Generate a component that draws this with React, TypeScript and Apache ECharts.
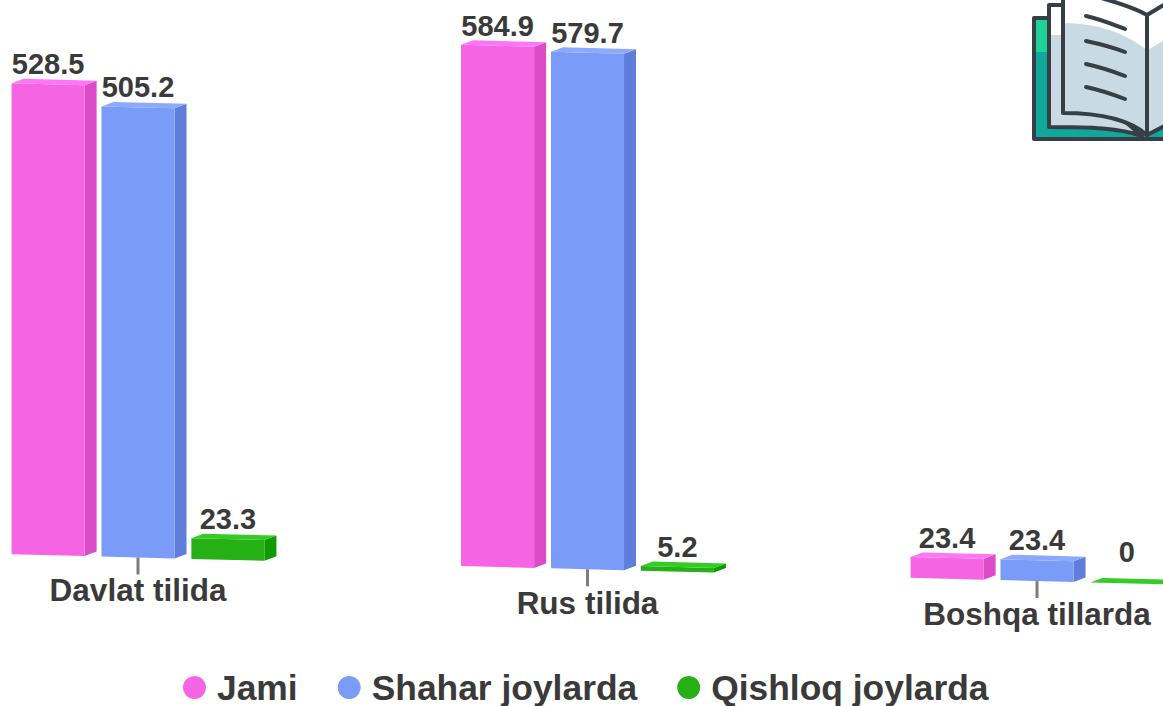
import React, { useEffect, useRef } from "react";
import * as echarts from "echarts";

const categories = ["Davlat tilida", "Rus tilida", "Boshqa tillarda"];
const jami = [528.5, 584.9, 23.4];
const shahar = [505.2, 579.7, 23.4];
const qishloq = [23.3, 5.2, 0];

const FONT = '"Liberation Sans", Arial, sans-serif';
const TEXT = "#3a3a3a";
const DARK = "#363e46";
const PALE = "#c9dae4";

const reg = (name: string, d: string) =>
  echarts.graphic.registerShape(name, echarts.graphic.extendPath(d, {}));

reg("bookCover", "M1034 18 H1170 V139 H1034 Z");
reg("bookMint", "M1036 20 H1048 V52 H1036 Z");
reg("bookPage2", "M1049 5 H1100 V100 L1142 136 C1120 128 1090 127 1049 127 Z");
reg("bookPage2Top", "M1051 7 H1064 V35 H1051 Z");
reg("bookPage1", "M1063 -6 H1088 C1110 1 1130 5 1147 15 V135 C1130 120 1100 113 1063 113 Z");
reg("bookPage1Top", "M1065 -6 H1088 C1110 1 1130 5 1147 15 V50 C1125 33 1100 24 1065 23 Z");
reg("bookRight", "M1147 15 L1172 0 V122 L1147 135 Z");
reg("bookRightTop", "M1149 15 L1172 0 V36 L1149 49 Z");
reg("bookLine1", "M1086 16 C1100 19 1112 24 1125 29");
reg("bookLine2", "M1086 41 C1100 44 1112 47 1125 52");
reg("bookLine3", "M1086 64 C1100 67 1112 71 1125 76");
reg("bookLine4", "M1086 87 C1100 90 1112 94 1125 99");

const SLOPE = 0.0262;
const ORIGIN_X = 138;
const sk = (x: number, y: number) => [x, y + SLOPE * (x - ORIGIN_X)];

const makeBar =
  (offsetShare: number, front: string, top: string, side: string) =>
  (_p: any, api: any) => {
    const cat = api.value(0);
    const v = api.value(1);
    const head = api.coord([cat, v]);
    const foot = api.coord([cat, 0]);
    const band = api.size([1, 0])[0];
    const w = band * 0.1625;
    const x0 = head[0] + band * offsetShare - w / 2;
    const x1 = x0 + w;
    const dx = 12;
    const dy = 4.5;
    const a = sk(x0, head[1]);
    const b = sk(x1, head[1]);
    const c = sk(x1, foot[1]);
    const d = sk(x0, foot[1]);
    const lift = v === 0 ? 30 : 19;
    return {
      type: "group",
      children: [
        {
          type: "polygon",
          shape: { points: [b, [b[0] + dx, b[1] - dy], [c[0] + dx, c[1] - dy], c] },
          style: { fill: side },
        },
        { type: "polygon", shape: { points: [a, b, c, d] }, style: { fill: front } },
        {
          type: "polygon",
          shape: { points: [a, [a[0] + dx, a[1] - dy], [b[0] + dx, b[1] - dy], b] },
          style: { fill: top },
        },
        {
          type: "text",
          style: {
            text: String(v),
            x: x0 + w / 2,
            y: a[1] - lift,
            align: "center",
            verticalAlign: "middle",
            fill: TEXT,
            font: `bold 29px ${FONT}`,
          },
        },
      ],
    };
  };

const renderTick = (_p: any, api: any) => {
  const p = api.coord([api.value(0), 0]);
  const s = sk(p[0], p[1]);
  return {
    type: "line",
    shape: { x1: s[0], y1: s[1], x2: s[0], y2: s[1] + 17 },
    style: { stroke: "#7d7d7d", lineWidth: 3 },
  };
};

const book = (type: string, style: any) => ({ type, x: 0, y: 0, silent: true, style });

export default function App() {
  const ref = useRef<HTMLDivElement>(null);
  useEffect(() => {
    const chart = echarts.init(ref.current!, null, { renderer: "svg" });
    const line = { fill: "none", stroke: DARK, lineWidth: 4, lineCap: "round" };
    const edge = { fill: "none", stroke: DARK, lineWidth: 4, lineJoin: "round" };
    chart.setOption({
      animation: false,
      backgroundColor: "#ffffff",
      grid: { left: -86.75, width: 1348.5, top: 22.9, height: 534.6, outerBoundsMode: "none" },
      xAxis: {
        type: "category",
        data: [
          { value: categories[0] },
          { value: categories[1], textStyle: { padding: [13, 0, 0, 0] } },
          { value: categories[2], textStyle: { padding: [24, 0, 0, 0] } },
        ],
        axisLine: { show: false },
        axisTick: { show: false },
        axisLabel: {
          interval: 0,
          margin: 16,
          color: TEXT,
          fontFamily: FONT,
          fontWeight: "bold",
          fontSize: 31.5,
        },
      },
      yAxis: { type: "value", min: 0, max: 600, interval: 100, show: false },
      legend: {
        left: 178,
        top: 665,
        icon: "circle",
        itemWidth: 23,
        itemHeight: 23,
        itemGap: 40,
        selectedMode: false,
        data: ["Jami", "Shahar joylarda", "Qishloq joylarda"],
        textStyle: { color: TEXT, fontFamily: FONT, fontWeight: "bold", fontSize: 35.4, padding: [0, 0, 0, 6] },
      },
      series: [
        {
          name: "Jami",
          type: "custom",
          silent: true,
          itemStyle: { color: "#f564e2" },
          encode: { x: 0, y: 1 },
          data: jami.map((v, i) => [i, v]),
          renderItem: makeBar(-0.2, "#f564e2", "#ff76f4", "#dd4cc8"),
        },
        {
          name: "Shahar joylarda",
          type: "custom",
          silent: true,
          itemStyle: { color: "#7a9bf7" },
          encode: { x: 0, y: 1 },
          data: shahar.map((v, i) => [i, v]),
          renderItem: makeBar(0, "#7a9bf7", "#8aa9ff", "#5f7edc"),
        },
        {
          name: "Qishloq joylarda",
          type: "custom",
          silent: true,
          itemStyle: { color: "#25b015" },
          encode: { x: 0, y: 1 },
          data: qishloq.map((v, i) => [i, v]),
          renderItem: makeBar(0.2, "#25b015", "#34cc24", "#0e9a00"),
        },
        {
          type: "custom",
          silent: true,
          encode: { x: 0, y: 1 },
          data: categories.map((_c, i) => [i, 0]),
          renderItem: renderTick,
        },
      ],
      graphic: {
        elements: [
          book("bookCover", { fill: "#0fa89a", stroke: DARK, lineWidth: 4, lineJoin: "round" }),
          book("bookMint", { fill: "#1fd396" }),
          book("bookPage2", { fill: PALE }),
          book("bookPage2Top", { fill: "#ffffff" }),
          book("bookPage2", edge),
          book("bookRight", { fill: PALE }),
          book("bookRightTop", { fill: "#ffffff" }),
          book("bookRight", edge),
          book("bookPage1", { fill: PALE }),
          book("bookPage1Top", { fill: "#ffffff" }),
          book("bookPage1", edge),
          book("bookLine1", line),
          book("bookLine2", line),
          book("bookLine3", line),
          book("bookLine4", line),
        ],
      },
    });
    return () => chart.dispose();
  }, []);
  return (
    <div
      ref={ref}
      style={{ position: "fixed", left: 0, top: 0, width: 1163, height: 706 }}
    />
  );
}
